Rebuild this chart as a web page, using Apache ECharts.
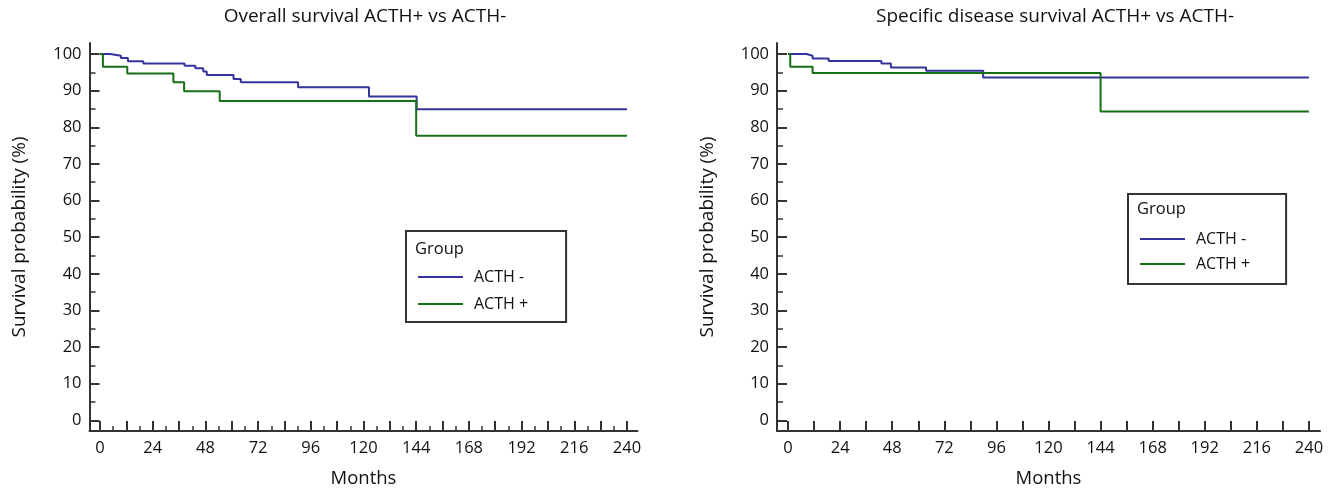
<!DOCTYPE html>
<html>
<head>
<meta charset="utf-8">
<script src="https://cdn.jsdelivr.net/npm/echarts@6/dist/echarts.min.js"></script>
<style>
  html, body { margin: 0; padding: 0; background: #fff; }
  #chart { width: 1338px; height: 488px; }
</style>
</head>
<body>
<div id="chart"></div>
<script>
// Overall survival (left) – event times in months and survival %
const overallNegTimes = [0, 4.6, 9.5, 12.7, 19.7, 38.5, 43.4, 47, 48.6, 60.8, 64.1, 90.2, 122.5, 144.2, 240]
const overallNegSurv = [100, 99.5, 98.9, 98.0, 97.4, 96.8, 96.1, 95.2, 94.3, 93.2, 92.3, 90.9, 88.4, 84.9, 84.9]
const overallPosTimes = [0, 1.3, 12.4, 33.4, 38.3, 54.5, 144, 240]
const overallPosSurv = [100, 96.5, 94.7, 92.3, 89.8, 87.2, 77.7, 77.7]

// Specific disease survival (right)
const specificNegTimes = [0, 8.5, 11.3, 18.7, 43, 47.4, 63.6, 89.9, 240]
const specificNegSurv = [100, 99.5, 98.8, 98.1, 97.4, 96.3, 95.4, 93.6, 93.6]
const specificPosTimes = [0, 1, 11.3, 144, 240]
const specificPosSurv = [100, 96.5, 94.8, 84.3, 84.3]

const groups = ['ACTH -', 'ACTH +']
const colors = ['#34349c', '#176f17']

// tick values
const monthLabels = [0, 24, 48, 72, 96, 120, 144, 168, 192, 216, 240]
const monthTicks = [0, 12, 24, 36, 48, 60, 72, 84, 96, 108, 120, 132, 144, 156, 168, 180, 192, 204, 216, 228, 240]
const monthMinorTicks = [6, 18, 30, 42, 54, 66, 78, 90, 102, 114, 126, 138, 150, 162, 174, 186, 198, 210, 222, 234]
const survLabels = [0, 10, 20, 30, 40, 50, 60, 70, 80, 90, 100]
const survMinorTicks = [5, 15, 25, 35, 45, 55, 65, 75, 85, 95]

const font = '"Open Sans", "Noto Sans", sans-serif'
const axisColor = '#333'
const yMin = -2.9
const yMax = 103

const pairs = (t, s) => t.map((x, i) => [x, s[i]])

// outerBoundsMode none: keep the grid where it is, even if the axis name touches the edge
const grids = [
    { left: 89.5, top: 43, width: 548, height: 388, outerBoundsMode: 'none' },
    { left: 777, top: 43, width: 543, height: 388, outerBoundsMode: 'none' }
]

function mainX (gridIndex, min, max) {
    return {
        type: 'value', gridIndex, min, max, position: 'bottom',
        name: 'Months', nameLocation: 'middle', nameGap: 38,
        nameTextStyle: { fontFamily: font, fontSize: 18.5, color: '#111' },
        axisLine: { onZero: false, lineStyle: { color: axisColor, width: 2 } },
        axisTick: { inside: true, length: 10, customValues: monthTicks, lineStyle: { color: axisColor, width: 2 } },
        axisLabel: { customValues: monthLabels, margin: 9, fontFamily: font, fontSize: 16.5, color: '#111' },
        splitLine: { show: false }
    }
}

function minorX (gridIndex, min, max) {
    return {
        type: 'value', gridIndex, min, max, position: 'bottom',
        axisLine: { show: false, onZero: false },
        axisTick: { inside: true, length: 5, customValues: monthMinorTicks, lineStyle: { color: axisColor, width: 1.5 } },
        axisLabel: { show: false },
        splitLine: { show: false }
    }
}

function mainY (gridIndex) {
    return {
        type: 'value', gridIndex, min: yMin, max: yMax, position: 'left',
        name: 'Survival probability (%)', nameLocation: 'middle', nameGap: 60,
        nameTextStyle: { fontFamily: font, fontSize: 19, color: '#111' },
        axisLine: { onZero: false, lineStyle: { color: axisColor, width: 2 } },
        axisTick: { inside: true, length: 10, customValues: survLabels, lineStyle: { color: axisColor, width: 2 } },
        axisLabel: { customValues: survLabels, margin: 8, fontFamily: font, fontSize: 16.5, color: '#111' },
        splitLine: { show: false }
    }
}

function minorY (gridIndex) {
    return {
        type: 'value', gridIndex, min: yMin, max: yMax, position: 'left',
        axisLine: { show: false, onZero: false },
        axisTick: { inside: true, length: 6, customValues: survMinorTicks, lineStyle: { color: axisColor, width: 1.5 } },
        axisLabel: { show: false },
        splitLine: { show: false }
    }
}

function kmSeries (name, xAxisIndex, yAxisIndex, data) {
    return {
        name, type: 'line', step: 'end', xAxisIndex, yAxisIndex, data,
        showSymbol: false, symbol: 'none',
        color: colors[groups.indexOf(name)],
        lineStyle: { width: 2 }
    }
}

function groupLegend (left, top, padding, itemGap) {
    return {
        data: groups, orient: 'vertical', left, top, padding, itemGap,
        icon: 'rect', itemWidth: 45, itemHeight: 2,
        borderColor: axisColor, borderWidth: 2, borderRadius: 0,
        selectedMode: false,
        textStyle: { fontFamily: font, fontSize: 16, color: '#111', lineHeight: 20, padding: [0, 0, 0, 6] }
    }
}

const titleStyle = { fontFamily: font, fontSize: 19, fontWeight: 'normal', color: '#111' }

const chart = echarts.init(document.getElementById('chart'), null, { renderer: 'canvas' })

chart.setOption({
    animation: false,
    backgroundColor: '#fff',
    title: [
        { text: 'Overall survival ACTH+ vs ACTH-', left: 360, top: 2, textAlign: 'center', textStyle: titleStyle },
        { text: 'Specific disease survival ACTH+ vs ACTH-', left: 1050, top: 2, textAlign: 'center', textStyle: titleStyle }
    ],
    grid: grids,
    xAxis: [mainX(0, -4.8, 244.8), minorX(0, -4.8, 244.8), mainX(1, -5.1, 245.1)],
    yAxis: [mainY(0), minorY(0), mainY(1), minorY(1)],
    legend: [
        groupLegend(406, 231, [36, 38, 8, 12], 7),
        groupLegend(1128, 194, [35, 36, 10, 12], 5)
    ],
    graphic: [
        { type: 'text', left: 415, top: 241, style: { text: 'Group', font: '16.5px ' + font, fill: '#111' } },
        { type: 'text', left: 1137, top: 201, style: { text: 'Group', font: '16.5px ' + font, fill: '#111' } }
    ],
    series: [
        kmSeries('ACTH -', 0, 0, pairs(overallNegTimes, overallNegSurv)),
        kmSeries('ACTH +', 0, 0, pairs(overallPosTimes, overallPosSurv)),
        kmSeries('ACTH -', 2, 2, pairs(specificNegTimes, specificNegSurv)),
        kmSeries('ACTH +', 2, 2, pairs(specificPosTimes, specificPosSurv))
    ]
})
</script>
</body>
</html>
